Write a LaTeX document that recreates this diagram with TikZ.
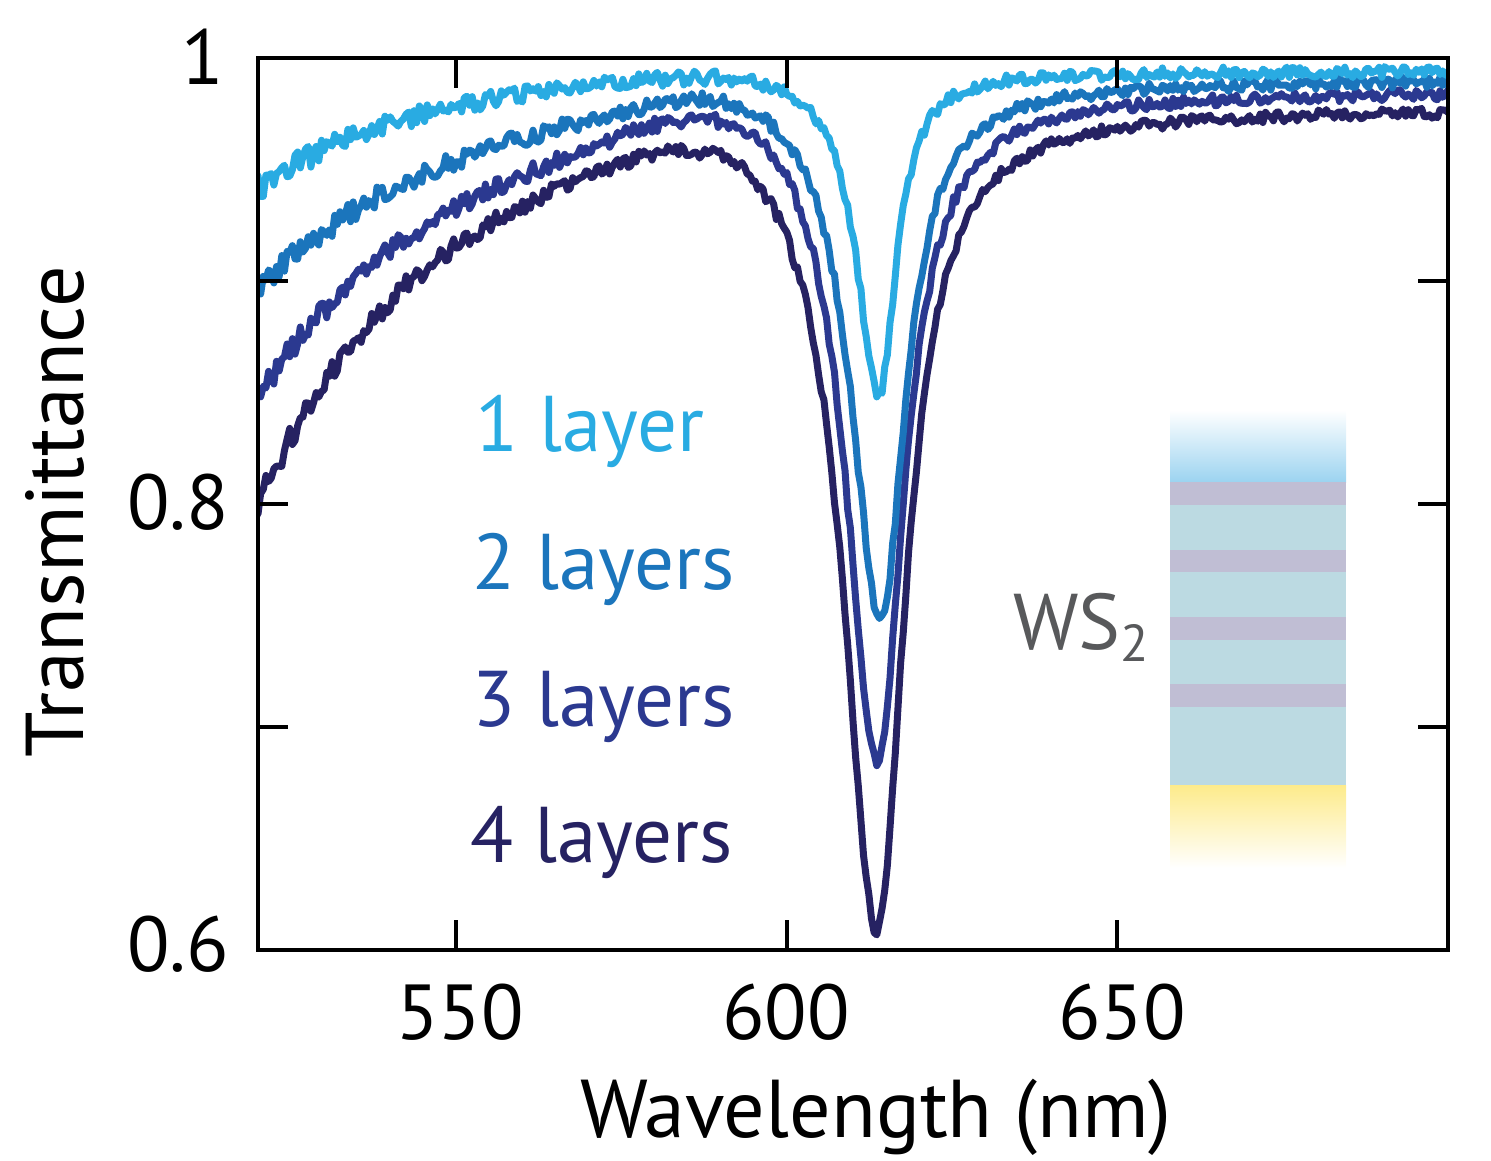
\documentclass[tikz,border=0pt]{standalone}
\usepackage{fontspec}
\setmainfont{PT Sans}
\definecolor{cA}{HTML}{29ABE2}
\definecolor{cB}{HTML}{1B75BC}
\definecolor{cC}{HTML}{2B3990}
\definecolor{cD}{HTML}{262262}
\definecolor{wsgray}{HTML}{58595B}
\definecolor{topblue}{HTML}{9BD3F0}
\definecolor{stripeP}{HTML}{C0BED4}
\definecolor{stripeC}{HTML}{BCDAE2}
\definecolor{goldY}{HTML}{FDEB8C}
\newcommand\spectrum[9]{%
  \draw[curve,#1] plot[domain=520:700,samples=451]
   (\x-520,{#2-#3*exp(-(\x-520)/#4)+#5*exp(-((\x-592)/20)^2)-#6/(1+((\x-#7)/ifthenelse(\x<#7,#8,#9))^2)+(0.0024+0.0032*exp(-(\x-520)/50))*rand-0.6});
}
\tikzset{
  curve/.style={line width=7pt,line join=round,line cap=round},
  axisline/.style={line width=4pt},
  ticklab/.style={font=\fontsize{78}{82}\selectfont},
  axlab/.style={font=\fontsize{82}{86}\selectfont},
  layerlab/.style={font=\fontsize{79}{84}\selectfont,anchor=base west},
}
\begin{document}
\begin{tikzpicture}[x=1pt,y=1pt]
\useasboundingbox (0,0) rectangle (1491,1161);
\pgfmathsetseed{4711}
% inset
\shade[top color=white,bottom color=topblue] (1170,751) rectangle (1346,678.5);
\fill[stripeC] (1170,678.5) rectangle (1346,375);
\foreach \a/\b in {678.5/655.5,611/588.5,544/521,477/454}{
  \fill[stripeP] (1170,\a) rectangle (1346,\b);}
\shade[top color=goldY,bottom color=white] (1170,375.2) rectangle (1346,293);
% curves
\begin{scope}[shift={(258pt,211pt)},x=6.611pt,y=2230pt]
  \clip (0,0) rectangle (180,0.4);
  \spectrum{cD}{0.977}{0.175}{27}{0.015}{0.368}{613.6}{6.1}{5.2}
  \spectrum{cC}{0.985}{0.135}{30}{0.016}{0.300}{613.6}{5.6}{5.0}
  \spectrum{cB}{0.990}{0.093}{30}{0.011}{0.242}{614.2}{5.4}{4.5}
  \spectrum{cA}{0.994}{0.052}{24.5}{0.004}{0.146}{613.9}{4.0}{3.2}
\end{scope}
% frame
\draw[axisline] (258,211) rectangle (1448,1103);
\foreach \xx in {456.3,786.9,1117.4}{
  \draw[axisline] (\xx,211) -- (\xx,241);
  \draw[axisline] (\xx,1103) -- (\xx,1073);}
\foreach \yy in {434,657,880}{
  \draw[axisline] (258,\yy) -- (288,\yy);
  \draw[axisline] (1448,\yy) -- (1418,\yy);}
% tick labels
\node[ticklab,anchor=base east,inner sep=0] (y1) at (224,1076) {1};
\node[ticklab,anchor=base east,inner sep=0] (y08) at (229,631) {0.8};
\node[ticklab,anchor=base east,inner sep=0] (y06) at (229,189) {0.6};
\node[ticklab,anchor=base,inner sep=0] (x550) at (460,121) {550};
\node[ticklab,anchor=base,inner sep=0] (x600) at (786,121) {600};
\node[ticklab,anchor=base,inner sep=0] (x650) at (1122,121) {650};
\node[axlab,anchor=base,inner sep=0] (xlab) at (876,23) {Wavelength (nm)};
\node[axlab,anchor=base,inner sep=0,rotate=90] (ylab) at (83,649) {Transmittance};
% layer labels
\node[layerlab,inner sep=0,text=cA] (l1) at (475,709) {1 layer};
\node[layerlab,inner sep=0,text=cB] (l2) at (472,571) {2 layers};
\node[layerlab,inner sep=0,text=cC] (l3) at (472,434) {3 layers};
\node[layerlab,inner sep=0,text=cD] (l4) at (470,298) {4 layers};
\node[layerlab,inner sep=0,text=wsgray] (ws) at (1013,511) {WS\raisebox{-12pt}{\fontsize{52}{52}\selectfont 2}};
\end{tikzpicture}
\end{document}
